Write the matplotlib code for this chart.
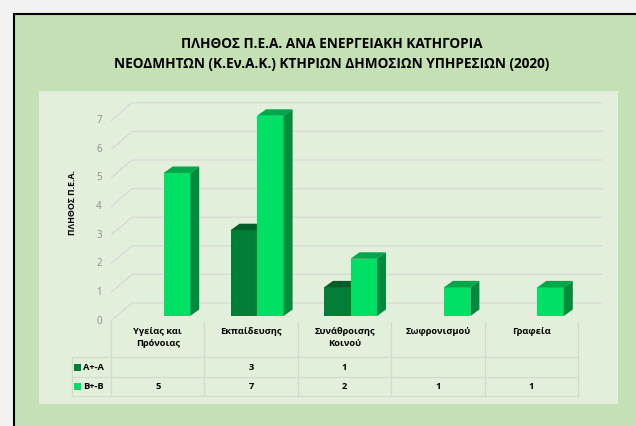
import matplotlib.pyplot as plt
from matplotlib.patches import Rectangle, Polygon

plt.rcParams['font.family'] = ['Open Sans', 'DejaVu Sans']

categories = ['Υγείας και\nΠρόνοιας', 'Εκπαίδευσης', 'Συνάθροισης\nΚοινού', 'Σωφρονισμού', 'Γραφεία']
series_names = ['A+-A', 'B+-B']
a_values = [None, 3, 1, None, None]
b_values = [5, 7, 2, 1, 1]
y_ticks = [0, 1, 2, 3, 4, 5, 6, 7]

title = 'ΠΛΗΘΟΣ Π.Ε.Α. ΑΝΑ ΕΝΕΡΓΕΙΑΚΗ ΚΑΤΗΓΟΡΙΑ\nΝΕΟΔΜΗΤΩΝ (Κ.Εν.Α.Κ.) ΚΤΗΡΙΩΝ ΔΗΜΟΣΙΩΝ ΥΠΗΡΕΣΙΩΝ (2020)'
y_label = 'ΠΛΗΘΟΣ Π.Ε.Α.'

# colours: front, top, side
col_a = ('#007D36', '#005F28', '#006A2D')
col_b = ('#00E065', '#00A84A', '#008C3C')
grid_col = '#D9D9D9'

W, H = 636, 426
fig = plt.figure(figsize=(W / 100, H / 100), dpi=100)
fig.patch.set_facecolor('#F2F2F2')

# outer green frame and inner plot area
fig.patches.append(Rectangle((14 / W, -0.05), 1.0, (426 - 14) / H + 0.05, transform=fig.transFigure,
                             facecolor='#C5E0B4', edgecolor='black', linewidth=1.5, zorder=-2))
fig.patches.append(Rectangle((39 / W, (426 - 404) / H), 579 / W, 313 / H, transform=fig.transFigure,
                             facecolor='#E2EFDA', edgecolor='none', zorder=-1))

fig.text(332 / W, 1 - 54 / H, title, ha='center', va='center', fontsize=9.8,
         fontweight='bold', linespacing=1.6)

# pixel scale: one category = 93.4 px, one unit = 28.6 px
cw, uh = 93.4, 28.6
x_lo, x_hi = -0.5, 4.8
y_lo, y_hi = -2.9, 7.75
ax = fig.add_axes([111 / W, (426 - (321 - y_lo * uh)) / H, (x_hi - x_lo) * cw / W, (y_hi - y_lo) * uh / H])
ax.set_zorder(5)
ax.set_xlim(x_lo, x_hi)
ax.set_ylim(y_lo, y_hi)
ax.axis('off')

# 3D wall depth
gdx, gdy = 21 / cw, 18 / uh
x_end = (602 - 111) / cw - 0.5
for v in y_ticks:
    ax.plot([-0.5, -0.5 + gdx, x_end], [v, v + gdy, v + gdy], color=grid_col, lw=0.9, zorder=1)
    ax.text(-0.63, v, str(v), ha='center', va='center', fontsize=7, color='#8C8C8C', clip_on=False)

ax.text(-0.907, 4.13, y_label, rotation=90, ha='center', va='center', fontsize=6.3,
        fontweight='bold', clip_on=False)

# bars with a simple 3D look
bw = 26.5 / cw
off_x, off_y = 6 / cw, 5 / uh
tdx, tdy = 9 / cw, 6.5 / uh


def bar3d(x0, v, cols):
    h = off_y + v
    ax.bar(x0, v, width=bw, bottom=off_y, align='edge', color=cols[0], zorder=3)
    ax.add_patch(Polygon([(x0, h), (x0 + tdx, h + tdy), (x0 + bw + tdx, h + tdy), (x0 + bw, h)],
                         closed=True, facecolor=cols[1], edgecolor='none', zorder=3))
    ax.add_patch(Polygon([(x0 + bw, off_y), (x0 + bw + tdx, off_y + tdy), (x0 + bw + tdx, h + tdy), (x0 + bw, h)],
                         closed=True, facecolor=cols[2], edgecolor='none', zorder=3))


for i in range(len(categories)):
    if a_values[i] is not None:
        bar3d(i - bw + off_x, a_values[i], col_a)
    if b_values[i] is not None:
        bar3d(i + off_x, b_values[i], col_b)

# data table
row_y = [(321 - 357) / uh, (321 - 377) / uh, (321 - 396) / uh]
lab_x = (72 - 111) / cw - 0.5
n = len(categories)
tcol = '#D3DBCF'
for k in range(n + 1):
    ax.plot([k - 0.5, k - 0.5], [-0.05, row_y[2]], color=tcol, lw=0.9, clip_on=False, zorder=1)
ax.plot([lab_x, lab_x], [row_y[0], row_y[2]], color=tcol, lw=0.9, clip_on=False)
for yy in row_y:
    ax.plot([lab_x, n - 0.5], [yy, yy], color=tcol, lw=0.9, clip_on=False)

for i, c in enumerate(categories):
    ax.text(i, -0.2, c, ha='center', va='top', fontsize=6.7, fontweight='bold',
            linespacing=1.45, clip_on=False)

rows = [a_values, b_values]
cols = [col_a[0], col_b[0]]
for r in range(2):
    yc = (row_y[r] + row_y[r + 1]) / 2
    ax.add_patch(Rectangle((lab_x + 2 / cw, yc - 3.5 / uh), 6.5 / cw, 7 / uh, facecolor=cols[r],
                           edgecolor='none', clip_on=False))
    ax.text(lab_x + 11 / cw, yc, series_names[r], ha='left', va='center', fontsize=6.7,
            fontweight='bold', clip_on=False)
    for i, v in enumerate(rows[r]):
        if v is not None:
            ax.text(i, yc, str(v), ha='center', va='center', fontsize=6.7, fontweight='bold', clip_on=False)

fig.savefig('out.png', dpi=100, facecolor=fig.get_facecolor())
